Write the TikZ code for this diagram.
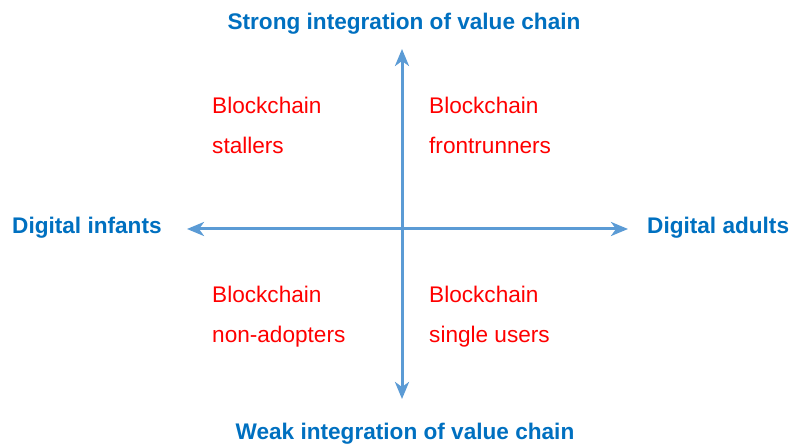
\documentclass[tikz,border=0pt]{standalone}
\usepackage{fontspec}
\setmainfont{Liberation Sans}
\usetikzlibrary{arrows.meta}
\definecolor{axisblue}{HTML}{5B9BD5}
\definecolor{labelblue}{HTML}{0070C0}
\definecolor{quadred}{HTML}{FF0000}
\tikzset{
  axisline/.style={draw=axisblue, line width=3pt, {Stealth[length=17pt,width=14pt,inset=5pt]}-{Stealth[length=17pt,width=14pt,inset=5pt]}},
  axislabel/.style={text=labelblue, font=\fontsize{22.6}{27}\selectfont\bfseries, inner sep=0pt, anchor=base},
  quadtext/.style={text=quadred, font=\fontsize{22.6}{27}\selectfont, inner sep=0pt, anchor=base west}
}
\begin{document}
\begin{tikzpicture}[x=1pt,y=-1pt]
\useasboundingbox (0,0) rectangle (790,446);
% axes end points
\coordinate (L) at (187,229);
\coordinate (R) at (628,229);
\coordinate (T) at (402,49);
\coordinate (B) at (402,399);
\draw[axisline] (L) -- (R);
\draw[axisline] (T) -- (B);
% axis labels
\node[axislabel] (strong) at (404,30) {Strong integration of value chain};
\node[axislabel] (weak) at (405,439) {Weak integration of value chain};
\node[axislabel, anchor=base west] (infants) at (12,234) {Digital infants};
\node[axislabel, anchor=base west] (adults) at (647,234) {Digital adults};
% quadrant texts
\node[quadtext] (s1) at (212,114) {Blockchain};
\node[quadtext] (s2) at (212,154) {stallers};
\node[quadtext] (f1) at (429,114) {Blockchain};
\node[quadtext] (f2) at (429,154) {frontrunners};
\node[quadtext] (n1) at (212,303) {Blockchain};
\node[quadtext] (n2) at (212,343) {non-adopters};
\node[quadtext] (u1) at (429,303) {Blockchain};
\node[quadtext] (u2) at (429,343) {single users};
\end{tikzpicture}
\end{document}
